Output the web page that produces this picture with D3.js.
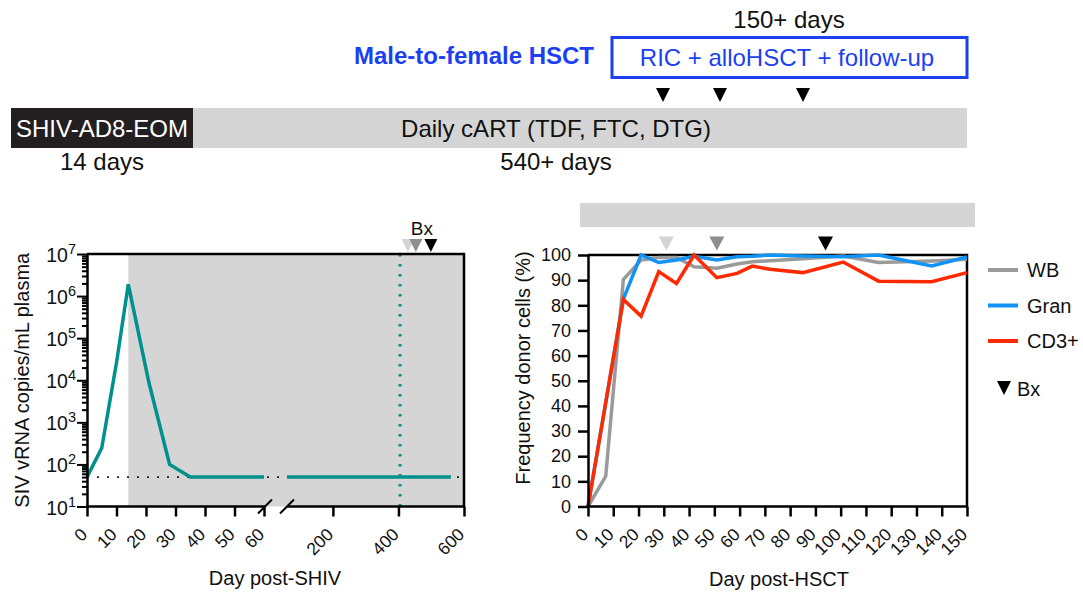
<!DOCTYPE html>
<html>
<head>
<meta charset="utf-8">
<script src="https://cdn.jsdelivr.net/npm/d3@7"></script>
<style>
  body { margin: 0; background: #fff; }
  svg text { font-family: "Liberation Sans", Arial, Helvetica, sans-serif; fill: #111; }
</style>
</head>
<body>
<svg id="chart" width="1083" height="595"></svg>
<script>
// ---------------- data ----------------
// plasma viral load (copies/mL), acute phase and suppressed phase
const vlDaysEarly = [0, 5, 10, 14, 21, 28, 35, 60];
const vlEarly = [50, 245, 26000, 1900000, 8700, 100, 50, 50];
const vlDaysLate = [60, 560];
const vlLate = [50, 50];
const detectionLimit = 50;
const artStartDay = 14;
const hsctDay = 405;
const shivBxDays = [429, 453, 499];
const bxShades = ["#d4d4d4", "#8e8e8e", "#000000"];
const shivTicksEarly = [0, 10, 20, 30, 40, 50, 60];
const shivTicksLate = [200, 400, 600];
const vlDecades = [1, 2, 3, 4, 5, 6, 7];

// donor chimerism (%) after transplant
const hsctDays = [0, 7, 14, 21, 28, 35, 42, 51, 59, 65, 72, 85, 101, 115, 136, 150];
const wb   = [0, 12, 90.3, 98, 99, 99, 95.3, 94.7, 96.4, 97.3, 97.7, 98.5, 99.6, 97, 97.6, 98.3];
const gran = [0, null, 82.5, 100, 97, 98, 99.5, 98, 99.3, 99.5, 100, 99.6, 99.3, 100, 95.6, 99.2];
const cd3  = [0, null, 82.3, 75.7, 93.4, 88.7, 100, 91, 92.7, 95.6, 94.3, 93, 97.2, 89.6, 89.4, 93];
const seriesNames = ["WB", "Gran", "CD3+"];
const seriesColors = ["#9a9a9a", "#1192f5", "#ff2a00"];
const hsctBxDays = [31, 51, 94];
const hsctTicksX = d3.range(0, 151, 10);
const hsctTicksY = d3.range(0, 101, 10);

const svg = d3.select("#chart");
const BLUE = "#1c3ff2";
const TEAL = "#00908d";
const SHADE = "#d5d5d5";

function downTriangle(g, cx, y0, w, h, fill) {
  g.append("path")
    .attr("d", `M${cx - w / 2},${y0}L${cx + w / 2},${y0}L${cx},${y0 + h}Z`)
    .attr("fill", fill);
}

// ---------------- study schematic ----------------
const sch = svg.append("g");
const schFont = "24px";
sch.append("text").attr("x", 789).attr("y", 19).attr("text-anchor", "middle")
  .attr("dominant-baseline", "central").style("font-size", schFont).text("150+ days");
sch.append("rect").attr("x", 612).attr("y", 37.5).attr("width", 355).attr("height", 40)
  .attr("fill", "none").attr("stroke", BLUE).attr("stroke-width", 3);
sch.append("text").attr("x", 787).attr("y", 57).attr("text-anchor", "middle")
  .attr("dominant-baseline", "central").style("font-size", schFont).style("fill", BLUE)
  .text("RIC + alloHSCT + follow-up");
sch.append("text").attr("x", 594).attr("y", 55).attr("text-anchor", "end")
  .attr("dominant-baseline", "central").style("font-size", schFont).style("font-weight", "bold")
  .style("fill", BLUE).text("Male-to-female HSCT");
[663, 720, 803].forEach(x => downTriangle(sch, x, 88, 14, 14, "#000"));
sch.append("rect").attr("x", 11).attr("y", 108).attr("width", 956).attr("height", 40).attr("fill", SHADE);
sch.append("rect").attr("x", 11).attr("y", 108).attr("width", 182).attr("height", 40).attr("fill", "#231f20");
sch.append("text").attr("x", 102).attr("y", 128).attr("text-anchor", "middle")
  .attr("dominant-baseline", "central").style("font-size", schFont).style("fill", "#fff").text("SHIV-AD8-EOM");
sch.append("text").attr("x", 556).attr("y", 128).attr("text-anchor", "middle")
  .attr("dominant-baseline", "central").style("font-size", schFont).text("Daily cART (TDF, FTC, DTG)");
sch.append("text").attr("x", 102).attr("y", 161).attr("text-anchor", "middle")
  .attr("dominant-baseline", "central").style("font-size", schFont).text("14 days");
sch.append("text").attr("x", 556).attr("y", 161).attr("text-anchor", "middle")
  .attr("dominant-baseline", "central").style("font-size", schFont).text("540+ days");

// ---------------- left panel: viral load ----------------
const xA = d3.scaleLinear([0, 60], [87, 264]);
const xB = d3.scaleLinear([60, 600], [287, 464]);
const yV = d3.scaleLog([10, 1e7], [506.5, 254]);
const L = svg.append("g");

L.append("rect").attr("x", xA(artStartDay)).attr("y", yV(1e7))
  .attr("width", xB(600) - xA(artStartDay)).attr("height", yV(10) - yV(1e7)).attr("fill", SHADE);

// limit of detection
L.append("line").attr("x1", xA(0)).attr("x2", xB(600)).attr("y1", yV(detectionLimit)).attr("y2", yV(detectionLimit))
  .attr("stroke", "#222").attr("stroke-width", 1.8).attr("stroke-dasharray", "2 8");

// transplant day
L.append("line").attr("x1", xB(hsctDay)).attr("x2", xB(hsctDay)).attr("y1", yV(1e7)).attr("y2", yV(10))
  .attr("stroke", TEAL).attr("stroke-width", 3).attr("stroke-dasharray", "2.5 7.5");

const vlLineA = d3.line().x(d => xA(d[0])).y(d => yV(d[1]));
const vlLineB = d3.line().x(d => xB(d[0])).y(d => yV(d[1]));
L.append("path").datum(d3.zip(vlDaysEarly, vlEarly)).attr("d", vlLineA)
  .attr("fill", "none").attr("stroke", TEAL).attr("stroke-width", 3.5).attr("stroke-linejoin", "miter");
L.append("path").datum(d3.zip(vlDaysLate, vlLate)).attr("d", vlLineB)
  .attr("fill", "none").attr("stroke", TEAL).attr("stroke-width", 3.5);

// frame
L.append("path").attr("d", `M${xA(0)},${yV(1e7)}H${xB(600)}V${yV(10)}`)
  .attr("fill", "none").attr("stroke", "#000").attr("stroke-width", 2.5);

// y axis (log, with minor ticks)
const vlTickVals = [];
vlDecades.forEach(e => { if (e < 7) { for (let m = 1; m < 10; m++) vlTickVals.push(m * Math.pow(10, e)); } else vlTickVals.push(1e7); });
const gy = L.append("g").attr("transform", `translate(${xA(0)},0)`)
  .call(d3.axisLeft(yV).tickValues(vlTickVals).tickFormat("").tickSizeOuter(0));
gy.select(".domain").attr("stroke-width", 2.5);
gy.selectAll(".tick line").attr("stroke-width", 2)
  .attr("x2", d => Math.abs(Math.log10(d) - Math.round(Math.log10(d))) < 1e-9 ? -10 : -5);
vlDecades.forEach(e => {
  const t = L.append("text").attr("x", 76).attr("y", yV(Math.pow(10, e)) + 8)
    .attr("text-anchor", "end").style("font-size", "19.5px");
  t.append("tspan").text("10");
  t.append("tspan").attr("dy", -8).style("font-size", "14.5px").text(String(e));
});

// x axis with break
const axisY = yV(10);
function rotateLabels(g) {
  g.select(".domain").remove();
  g.selectAll(".tick line").attr("stroke-width", 2.5);
  g.selectAll(".tick text").attr("y", 0).attr("dy", 0)
    .attr("transform", "translate(1,29) rotate(-45)")
    .style("text-anchor", "end").style("font-size", "17.5px");
}
L.append("g").attr("transform", `translate(0,${axisY})`)
  .call(d3.axisBottom(xA).tickValues(shivTicksEarly).tickSize(10).tickSizeOuter(0)).call(rotateLabels);
L.append("g").attr("transform", `translate(0,${axisY})`)
  .call(d3.axisBottom(xB).tickValues(shivTicksLate).tickSize(10).tickSizeOuter(0)).call(rotateLabels);
L.append("line").attr("x1", xA(0) - 1).attr("x2", xA(60) + 1).attr("y1", axisY).attr("y2", axisY)
  .attr("stroke", "#000").attr("stroke-width", 2.5);
L.append("line").attr("x1", xB(60)).attr("x2", xB(600) + 1).attr("y1", axisY).attr("y2", axisY)
  .attr("stroke", "#000").attr("stroke-width", 2.5);
[xA(60) + 1, xB(60)].forEach(cx => {
  L.append("line").attr("x1", cx - 7).attr("x2", cx + 7).attr("y1", axisY + 7).attr("y2", axisY - 7)
    .attr("stroke", "#000").attr("stroke-width", 2);
});

// biopsy markers
shivBxDays.forEach((d, i) => downTriangle(L, xB(d), 239, 13, 13, bxShades[i]));
L.append("text").attr("x", xB(shivBxDays[1]) + 6).attr("y", 228).attr("text-anchor", "middle")
  .attr("dominant-baseline", "central").style("font-size", "19px").text("Bx");

L.append("text").attr("transform", `translate(22,${(yV(10) + yV(1e7)) / 2}) rotate(-90)`)
  .attr("text-anchor", "middle").attr("dominant-baseline", "central").style("font-size", "20px")
  .text("SIV vRNA copies/mL plasma");
L.append("text").attr("x", 275).attr("y", 578).attr("text-anchor", "middle")
  .attr("dominant-baseline", "central").style("font-size", "20px").text("Day post-SHIV");

// ---------------- right panel: donor chimerism ----------------
const xD = d3.scaleLinear([0, 150], [588, 967]);
const yD = d3.scaleLinear([0, 100], [506.5, 255]);
const R = svg.append("g");

R.append("rect").attr("x", xD(0) - 8).attr("y", 203).attr("width", xD(150) - xD(0) + 16).attr("height", 24)
  .attr("fill", SHADE);

R.append("path").attr("d", `M${xD(0)},${yD(100)}H${xD(150)}V${yD(0)}`)
  .attr("fill", "none").attr("stroke", "#000").attr("stroke-width", 2.5);

const series = [wb, gran, cd3];
const dLine = d3.line().x(d => xD(d[0])).y(d => yD(d[1]));
series.forEach((vals, i) => {
  const pts = d3.zip(hsctDays, vals).filter(p => p[1] !== null);
  R.append("path").datum(pts).attr("d", dLine)
    .attr("fill", "none").attr("stroke", seriesColors[i]).attr("stroke-width", 3.5)
    .attr("stroke-linejoin", "miter");
});

const gyD = R.append("g").attr("transform", `translate(${xD(0)},0)`)
  .call(d3.axisLeft(yD).tickValues(hsctTicksY).tickSize(10).tickPadding(7).tickSizeOuter(0));
gyD.select(".domain").attr("stroke-width", 2.5);
gyD.selectAll(".tick line").attr("stroke-width", 2.5);
gyD.selectAll(".tick text").style("font-size", "18px");

R.append("g").attr("transform", `translate(0,${yD(0)})`)
  .call(d3.axisBottom(xD).tickValues(hsctTicksX).tickSize(10).tickSizeOuter(0)).call(rotateLabels);
R.append("line").attr("x1", xD(0) - 1).attr("x2", xD(150) + 1).attr("y1", yD(0)).attr("y2", yD(0))
  .attr("stroke", "#000").attr("stroke-width", 2.5);

hsctBxDays.forEach((d, i) => downTriangle(R, xD(d), 236.5, 15, 14, bxShades[i]));

R.append("text").attr("transform", `translate(523,368) rotate(-90)`)
  .attr("text-anchor", "middle").attr("dominant-baseline", "central").style("font-size", "20px")
  .text("Frequency donor cells (%)");
R.append("text").attr("x", 779).attr("y", 579).attr("text-anchor", "middle")
  .attr("dominant-baseline", "central").style("font-size", "20px").text("Day post-HSCT");

// legend
const leg = R.append("g");
seriesNames.forEach((name, i) => {
  const y = 270 + i * 35.5;
  leg.append("line").attr("x1", 988).attr("x2", 1018).attr("y1", y).attr("y2", y)
    .attr("stroke", seriesColors[i]).attr("stroke-width", 4);
  leg.append("text").attr("x", 1027).attr("y", y).attr("dominant-baseline", "central")
    .style("font-size", "20px").text(name);
});
downTriangle(leg, 1004, 381, 14, 14, "#000");
leg.append("text").attr("x", 1017).attr("y", 389).attr("dominant-baseline", "central")
  .style("font-size", "20px").text("Bx");
</script>
</body>
</html>
